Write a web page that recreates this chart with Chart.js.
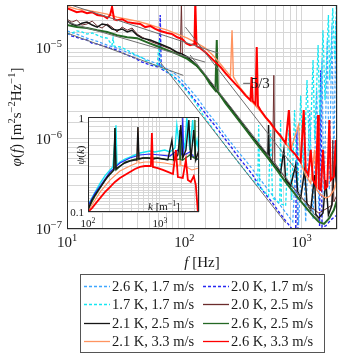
<!DOCTYPE html>
<html>
<head>
<meta charset="utf-8">
<script src="https://cdn.jsdelivr.net/npm/chart.js@4.4.1/dist/chart.umd.min.js"></script>
<style>
  html, body { margin: 0; padding: 0; background: #fff; }
  #contenitore { position: relative; width: 342px; height: 357px; }
  #contenitore canvas { position: absolute; left: 0; top: 0; }
</style>
</head>
<body>
<div id="contenitore">
  <canvas id="graficoSpettro" width="342" height="357"></canvas>
  <canvas id="graficoInset" width="342" height="357"></canvas>
</div>
<script>
//---[ DATI: spettri phi(f), frequenze in Hz ]---
const etichette = ['2.6 K, 1.7 m/s', '2.0 K, 1.7 m/s', '1.7 K, 1.7 m/s', '2.0 K, 2.5 m/s',
                   '2.1 K, 2.5 m/s', '2.6 K, 2.5 m/s', '2.1 K, 3.3 m/s', '2.6 K, 3.3 m/s'];

const freq26_17 = [10, 12.1, 14.8, 18.1, 22.0, 26.7, 32.6, 39.6, 48.3, 58.8, 71.6, 87.1, 106, 129, 157, 193, 233, 284, 345, 422,
                   511, 623, 758, 840, 889, 941, 1020, 1082, 1170, 1250, 1345, 1400, 1490, 1550, 1653, 1720, 1810, 1880, 1953, 2000];
const phi26_17 = [1.55e-5, 1.43e-5, 1.29e-5, 1.19e-5, 1.08e-5, 1.0e-5, 9.0e-6, 8.2e-6, 7.4e-6, 6.7e-6, 5.86e-6, 5.0e-6, 3.8e-6, 2.81e-6, 1.97e-6, 1.41e-6, 1.01e-6, 7.3e-7, 5.4e-7, 3.85e-7,
                  2.77e-7, 2.0e-7, 1.43e-7, 1.2e-7, 5.8e-7, 1.11e-7, 1.09e-6, 1.2e-7, 2.07e-6, 1.3e-7, 3.43e-6, 1.62e-7, 7.4e-6, 2.09e-7, 1.23e-5, 2.7e-7, 1.8e-5, 4.5e-7, 2.04e-5, 7.5e-7];

const freq20_17 = [10, 11.0, 12.1, 13.4, 14.8, 16.4, 18.1, 20.7, 23.3, 26.7, 31.3, 37.4, 43.8, 51.2, 58.8, 61.1, 62.3, 63.5, 71.6, 80.6,
                   92.4, 106, 119, 137, 157, 184, 212, 247, 290, 332, 383, 430, 492, 565, 640, 730, 840, 889, 910, 930,
                   1194, 1318, 1420, 1454, 1490, 1604, 1770, 2000];
const phi20_17 = [1.47e-5, 1.36e-5, 1.32e-5, 1.26e-5, 1.23e-5, 1.13e-5, 1.11e-5, 1.05e-5, 1.0e-5, 9.5e-6, 8.6e-6, 7.8e-6, 7.0e-6, 6.5e-6, 6.2e-6, 6.2e-6, 2.32e-5, 5.9e-6, 5.4e-6, 4.9e-6,
                  4.2e-6, 3.43e-6, 2.8e-6, 2.25e-6, 1.77e-6, 1.37e-6, 1.07e-6, 8.3e-7, 6.2e-7, 5.0e-7, 3.95e-7, 3.06e-7, 2.43e-7, 1.94e-7, 1.54e-7, 1.23e-7, 9.8e-8, 9.5e-8, 1.24e-6, 9.2e-8,
                  9.3e-8, 9.6e-8, 1.0e-7, 5.7e-6, 1.05e-7, 1.08e-7, 1.26e-7, 1.43e-7];

const freq17_17 = [10, 11.0, 12.1, 13.4, 14.8, 16.4, 18.1, 19.9, 22.0, 24.2, 24.7, 25.2, 28.4, 32.6, 37.4, 43.8, 51.2, 58.8, 61.1, 62.3,
                   68.8, 78.9, 92.4, 108, 127, 148, 174, 203, 238, 278, 325, 383, 422, 430, 440, 484, 522, 543, 565, 650,
                   661, 672, 730, 778, 822, 870, 924, 981, 1041, 1110, 1170, 1250, 1291, 1380, 1428, 1520, 1580, 1690, 1734, 1840,
                   1915, 1975, 2000];
const phi17_17 = [1.43e-5, 1.47e-5, 1.55e-5, 1.51e-5, 1.43e-5, 1.47e-5, 1.39e-5, 1.32e-5, 1.29e-5, 1.08e-5, 1.29e-5, 1.05e-5, 1.03e-5, 9.5e-6, 8.6e-6, 7.8e-6, 6.8e-6, 6.3e-6, 1.23e-5, 6.2e-6,
                  5.7e-6, 5.0e-6, 4.1e-6, 3.2e-6, 2.4e-6, 1.73e-6, 1.3e-6, 9.9e-7, 7.5e-7, 5.8e-7, 4.5e-7, 3.48e-7, 3.06e-7, 1.41e-6, 2.9e-7, 2.57e-7, 2.32e-7, 1.24e-6, 2.2e-7, 1.94e-7,
                  1.6e-6, 1.89e-7, 1.8e-7, 1.24e-6, 2.09e-7, 2.07e-6, 2.7e-7, 3.0e-6, 3.95e-7, 4.43e-6, 5.8e-7, 7.4e-6, 9.6e-7, 1.08e-5, 1.6e-6, 1.58e-5, 2.66e-6, 2.32e-5, 4.43e-6, 2.77e-5,
                  7.4e-6, 3.0e-5, 1.23e-5];

const freq20_25 = [10, 11.0, 12.1, 13.4, 14.8, 16.4, 18.1, 19.9, 22.0, 24.2, 26.7, 29.5, 32.6, 35.9, 39.6, 43.8, 51.2, 62.3, 75.9, 87.1,
                   92.4, 94.4, 96.2, 106, 119, 137, 166, 203, 247, 301, 366, 445, 543, 565, 579, 590, 661, 805, 981, 1194,
                   1400, 1653, 1810, 1840, 1880, 2000];
const phi20_25 = [2.09e-5, 1.94e-5, 2.04e-5, 1.80e-5, 1.85e-5, 1.99e-5, 1.76e-5, 1.67e-5, 1.85e-5, 1.71e-5, 1.51e-5, 1.71e-5, 1.58e-5, 1.67e-5, 1.43e-5, 1.32e-5, 1.19e-5, 1.08e-5, 9.8e-6, 8.8e-6,
                  8.6e-6, 3.2e-5, 8.4e-6, 7.8e-6, 6.8e-6, 5.7e-6, 4.1e-6, 2.95e-6, 2.12e-6, 1.52e-6, 1.09e-6, 7.9e-7, 5.8e-7, 5.5e-7, 5.0e-6, 5.4e-7, 4.3e-7, 3.06e-7, 2.3e-7, 1.75e-7,
                  1.5e-7, 1.7e-7, 1.84e-7, 9.6e-7, 2.0e-7, 2.38e-7];

const freq21_25 = [10, 11.0, 12.1, 13.4, 14.8, 16.4, 18.1, 19.9, 22.0, 24.2, 26.7, 29.5, 32.6, 35.9, 39.6, 43.8, 51.2, 62.3, 75.9, 87.1,
                   96.2, 106, 119, 137, 151, 166, 203, 247, 301, 366, 445, 515, 522, 529, 543, 661, 705, 730, 805, 889,
                   924, 981, 1060, 1110, 1194, 1290, 1318, 1400, 1520, 1604, 1690, 1810, 1915, 2000];
const phi21_25 = [1.99e-5, 1.85e-5, 1.76e-5, 1.89e-5, 1.94e-5, 1.80e-5, 1.71e-5, 1.85e-5, 1.80e-5, 1.63e-5, 1.58e-5, 1.63e-5, 1.51e-5, 1.58e-5, 1.39e-5, 1.29e-5, 1.23e-5, 1.11e-5, 1.0e-5, 9.0e-6,
                  8.6e-6, 8.0e-6, 7.0e-6, 5.8e-6, 5.0e-6, 4.2e-6, 3.0e-6, 2.2e-6, 1.56e-6, 1.12e-6, 8.1e-7, 6.6e-7, 1.41e-6, 6.4e-7, 5.8e-7, 4.2e-7, 7.5e-7, 3.48e-7, 3.0e-7, 5.1e-7,
                  2.6e-7, 2.2e-7, 4.5e-7, 1.89e-7, 1.62e-7, 3.95e-7, 1.46e-7, 1.32e-7, 1.5e-7, 3.48e-7, 1.43e-7, 1.84e-7, 5.8e-7, 2.38e-7];

const freq26_25 = [10, 12.1, 14.8, 18.1, 22.0, 26.7, 32.6, 39.6, 48.3, 58.8, 71.6, 87.1, 106, 129, 151, 166, 184, 189, 193, 224,
                   273, 332, 404, 492, 599, 730, 889, 1082, 1250, 1400, 1550, 1720, 1880, 2000];
const phi26_25 = [1.80e-5, 1.71e-5, 1.67e-5, 1.58e-5, 1.51e-5, 1.39e-5, 1.32e-5, 1.29e-5, 1.16e-5, 1.05e-5, 9.5e-6, 8.6e-6, 7.6e-6, 6.3e-6, 4.9e-6, 4.0e-6, 3.4e-6, 1.23e-5, 3.3e-6, 2.47e-6,
                  1.77e-6, 1.27e-6, 9.1e-7, 6.6e-7, 4.7e-7, 3.3e-7, 2.38e-7, 1.75e-7, 1.39e-7, 1.2e-7, 1.14e-7, 1.32e-7, 1.62e-7, 2.09e-7];

const freq21_33 = [10, 12.1, 14.8, 18.1, 22.0, 26.7, 32.6, 39.6, 48.3, 58.8, 71.6, 87.1, 106, 129, 151, 174, 203, 247, 255, 262,
                   301, 366, 445, 543, 661, 805, 941, 981, 1082, 1194, 1290, 1345, 1454, 1604, 1734, 1880, 2000];
const phi21_33 = [2.91e-5, 2.70e-5, 2.63e-5, 2.50e-5, 2.38e-5, 2.20e-5, 2.09e-5, 1.99e-5, 1.85e-5, 1.71e-5, 1.58e-5, 1.43e-5, 1.29e-5, 1.13e-5, 1.0e-5, 8.4e-6, 6.7e-6, 4.9e-6, 1.58e-5, 4.8e-6,
                  3.6e-6, 2.66e-6, 2.0e-6, 1.45e-6, 1.04e-6, 7.5e-7, 1.41e-6, 5.4e-7, 3.95e-7, 3.2e-7, 7.5e-7, 2.7e-7, 2.38e-7, 2.2e-7, 2.3e-7, 2.7e-7, 3.48e-7];

const freq26_33 = [10, 11.0, 12.1, 13.4, 14.8, 16.4, 18.1, 20.7, 22.0, 23.3, 24.2, 25.2, 26.7, 29.5, 32.6, 37.4, 42.1, 46.4, 51.2, 56.5,
                   62.3, 71.6, 78.9, 87.1, 96.2, 104, 112, 122, 124, 127, 137, 151, 166, 184, 203, 224, 247, 273, 301, 332,
                   366, 374, 383, 404, 414, 424, 445, 492, 543, 599, 661, 730, 778, 805, 889, 981, 1041, 1082, 1140, 1194,
                   1250, 1318, 1380, 1400, 1454, 1520, 1580, 1653, 1720, 1770, 1880, 1953, 2000];
const phi26_33 = [2.77e-5, 2.63e-5, 2.50e-5, 2.56e-5, 2.44e-5, 2.50e-5, 2.32e-5, 2.26e-5, 2.14e-5, 2.32e-5, 2.85e-5, 2.09e-5, 2.04e-5, 2.09e-5, 1.94e-5, 1.89e-5, 1.85e-5, 1.71e-5, 1.76e-5, 1.63e-5,
                  1.55e-5, 1.47e-5, 1.43e-5, 1.32e-5, 1.26e-5, 1.13e-5, 1.08e-5, 1.11e-5, 3.3e-5, 1.05e-5, 1.0e-5, 9.0e-6, 8.0e-6, 7.0e-6, 6.2e-6, 5.3e-6, 4.6e-6, 4.0e-6, 3.5e-6, 3.0e-6,
                  2.66e-6, 4.8e-6, 2.6e-6, 2.4e-6, 1.03e-5, 2.3e-6, 2.07e-6, 1.73e-6, 1.49e-6, 1.24e-6, 1.07e-6, 8.9e-7, 2.07e-6, 7.6e-7, 6.6e-7, 5.5e-7, 2.07e-6, 4.5e-7, 3.95e-7, 7.5e-7,
                  3.48e-7, 3.06e-7, 1.82e-6, 2.8e-7, 2.7e-7, 7.5e-7, 2.8e-7, 2.95e-7, 1.6e-6, 3.48e-7, 3.8e-7, 9.6e-7, 4.6e-7];

// rette di riferimento (estremi)
const rettaFreq = [[10, 195], [102, 941], [10, 151], [112, 1400], [10, 98], [62.3, 730]];
const rettaPhi = [[3.1e-5, 8.8e-6], [1.71e-5, 4.16e-7], [1.94e-5, 7.0e-6], [8.4e-6, 1.26e-7], [1.47e-5, 5.0e-6], [7.0e-6, 1.17e-7]];

//---[ DATI INSET: psi(k), k in m^-1 ]---
const kCiano = [100, 117, 147, 172, 202, 222, 245, 253, 278, 326, 383, 450, 528, 620, 726, 851, 1000, 1170, 1377, 1620,
                1720, 1896, 2080, 2220, 2370, 2610, 2860, 3070, 3280, 3490];
const psiCiano = [0.118, 0.147, 0.20, 0.24, 0.277, 0.298, 0.82, 0.312, 0.336, 0.361, 0.379, 0.398, 0.418, 0.428, 0.439, 0.428, 0.439, 0.449, 0.428, 0.472,
                  0.82, 0.449, 0.573, 0.472, 0.976, 0.449, 0.93, 0.449, 0.573, 0.398];
const kBlu = [100, 125, 147, 202, 278, 383, 528, 726, 1000, 1377, 1780, 2010, 2080, 2150, 2610, 3070, 3490];
const psiBlu = [0.116, 0.158, 0.188, 0.264, 0.328, 0.37, 0.398, 0.408, 0.398, 0.388, 0.449, 0.40, 1.0, 0.398, 0.428, 0.37, 0.353];
const kNero = [100, 113.6, 133, 162, 190, 229, 237, 245, 278, 326, 383, 450, 479, 495, 511, 580, 681, 800, 935, 1100,
               1290, 1470, 1563, 1780, 1957, 2080, 2300, 2530, 2690, 2960, 3160, 3490];
const psiNero = [0.105, 0.134, 0.162, 0.20, 0.239, 0.277, 0.766, 0.284, 0.305, 0.328, 0.344, 0.353, 0.353, 0.785, 0.361, 0.37, 0.37, 0.361, 0.37, 0.361,
                 0.353, 0.573, 0.353, 0.398, 0.824, 0.37, 0.449, 0.93, 0.353, 0.73, 0.353, 0.449];
const kVerde = [100, 125, 172, 229, 237, 245, 326, 450, 620, 851, 1170, 1620, 1850, 1896, 1950, 2080, 2610, 3000, 3070, 3140, 3490];
const psiVerde = [0.107, 0.147, 0.217, 0.277, 0.766, 0.277, 0.336, 0.361, 0.37, 0.37, 0.361, 0.353, 0.36, 0.73, 0.355, 0.353, 0.398, 0.37, 0.93, 0.353, 0.37];
const kArancio = [100, 147, 202, 278, 383, 479, 495, 511, 620, 851, 1170, 1620, 1850, 1896, 1950, 2220, 2780, 3490];
const psiArancio = [0.102, 0.162, 0.217, 0.270, 0.305, 0.328, 0.766, 0.328, 0.336, 0.336, 0.328, 0.312, 0.31, 0.647, 0.31, 0.305, 0.277, 0.29];
const kRosso = [100, 113.6, 129, 147, 172, 202, 237, 278, 326, 383, 450, 528, 620, 726, 750, 774, 800, 935, 1100, 1290,
                1520, 1668, 1780, 2080, 2300, 2450, 2690, 2960, 3160, 3280, 3380, 3490];
const psiRosso = [0.1, 0.11, 0.124, 0.14, 0.162, 0.183, 0.207, 0.228, 0.245, 0.264, 0.284, 0.298, 0.305, 0.305, 0.305, 0.679, 0.298, 0.29, 0.277, 0.264,
                  0.251, 0.449, 0.233, 0.228, 0.353, 0.217, 0.207, 0.239, 0.192, 0.134, 0.1, 0.118];

const FONT = '"Liberation Serif", "DejaVu Serif", serif';
const GRIGLIA = '#d6d6d6';

// Unisce due array in punti {x, y}
function punti(xs, ys) {
    return xs.map((x, i) => ({ x: x, y: ys[i] }));
}

// Scrive un testo composto da pezzi: '' normale, 'i' corsivo, 's' apice
function testoRicco(ctx, parti, x, y, size, align) {
    const pezzi = parti.map(([t, st]) => {
        const sup = st.includes('s');
        const sz = sup ? size * 0.7 : size;
        const font = (st.includes('i') ? 'italic ' : '') + sz + 'px ' + FONT;
        ctx.font = font;
        return { t: t, font: font, w: ctx.measureText(t).width, dy: sup ? -size * 0.4 : 0 };
    });
    const tot = pezzi.reduce((a, p) => a + p.w, 0);
    let cx = align === 'right' ? x - tot : (align === 'left' ? x : x - tot / 2);
    ctx.textAlign = 'left';
    ctx.textBaseline = 'alphabetic';
    pezzi.forEach(p => {
        ctx.font = p.font;
        ctx.fillText(p.t, cx, y + p.dy);
        cx += p.w;
    });
}

function cornice(ctx, ca) {
    ctx.save();
    ctx.strokeStyle = '#2a2a2a';
    ctx.lineWidth = 1;
    ctx.setLineDash([]);
    ctx.strokeRect(Math.round(ca.left) + 0.5, Math.round(ca.top) + 0.5,
                   Math.round(ca.right - ca.left) - 1, Math.round(ca.bottom - ca.top) - 1);
    ctx.restore();
}

//---[ SERIE GRAFICO PRINCIPALE ]---
const serie = [
    { f: freq26_17, v: phi26_17, color: '#3ea6ff', dash: [3, 2], width: 1.2, order: 7 },
    { f: freq20_17, v: phi20_17, color: '#2626f2', dash: [3, 2], width: 1.4, order: 8 },
    { f: freq17_17, v: phi17_17, color: '#16e6f2', dash: [3, 2], width: 1.3, order: 6 },
    { f: freq20_25, v: phi20_25, color: '#6b2c2c', dash: [], width: 1, order: 5 },
    { f: freq21_25, v: phi21_25, color: '#151515', dash: [], width: 1.5, order: 4 },
    { f: freq26_25, v: phi26_25, color: '#246824', dash: [], width: 2, order: 3 },
    { f: freq21_33, v: phi21_33, color: '#ff9460', dash: [], width: 1.4, order: 2 },
    { f: freq26_33, v: phi26_33, color: '#ff0000', dash: [], width: 2, order: 1 }
];

const datasetsSpettro = serie.map((s, i) => ({
    label: etichette[i],
    data: punti(s.f, s.v),
    borderColor: s.color,
    backgroundColor: s.color,
    borderDash: s.dash,
    borderWidth: s.width,
    showLine: true,
    pointRadius: 0,
    tension: 0,
    order: s.order
}));
rettaFreq.forEach((fr, i) => {
    datasetsSpettro.push({
        label: 'retta ' + i,
        data: punti(fr, rettaPhi[i]),
        borderColor: '#6e6e6e',
        borderWidth: 1,
        showLine: true,
        pointRadius: 0,
        order: 0
    });
});

// Etichette assi, titoli e cornice del grafico principale
const etichettePrincipali = {
    id: 'etichettePrincipali',
    afterDraw(chart) {
        const ctx = chart.ctx;
        const ca = chart.chartArea;
        const sx = chart.scales.x;
        const sy = chart.scales.y;
        cornice(ctx, ca);
        ctx.save();
        ctx.fillStyle = '#1a1a1a';
        [[10, '1'], [100, '2'], [1000, '3']].forEach(([v, e]) => {
            testoRicco(ctx, [['10', ''], [e, 's']], sx.getPixelForValue(v), ca.bottom + 18, 15, 'center');
        });
        [[1e-5, '\u22125'], [1e-6, '\u22126'], [1e-7, '\u22127']].forEach(([v, e]) => {
            testoRicco(ctx, [['10', ''], [e, 's']], 62, sy.getPixelForValue(v) + 5, 15, 'right');
        });
        testoRicco(ctx, [['f', 'i'], [' [Hz]', '']], (ca.left + ca.right) / 2, 267, 15, 'center');
        ctx.save();
        ctx.translate(21, (ca.top + ca.bottom) / 2);
        ctx.rotate(-Math.PI / 2);
        testoRicco(ctx, [['\u03C6', 'i'], ['(', ''], ['f', 'i'], [') [m', ''], ['2', 's'], ['s', ''], ['\u22122', 's'],
                         ['Hz', ''], ['\u22121', 's'], [']', '']], 0, 0, 15, 'center');
        ctx.restore();
        testoRicco(ctx, [['\u22125/3', '']], 256, 88, 15, 'center');
        ctx.restore();
    }
};

// Legenda a due colonne sotto il grafico
const legendaBox = {
    id: 'legendaBox',
    afterDraw(chart) {
        const ctx = chart.ctx;
        ctx.save();
        ctx.fillStyle = '#fff';
        ctx.fillRect(80, 274, 244, 78);
        ctx.strokeStyle = '#555';
        ctx.lineWidth = 1;
        ctx.strokeRect(80.5, 274.5, 244, 78);
        serie.forEach((s, i) => {
            const x0 = i % 2 === 0 ? 84 : 203;
            const yc = Math.round(286 + Math.floor(i / 2) * 18.3) + 0.5;
            ctx.strokeStyle = s.color;
            ctx.lineWidth = 1.3;
            ctx.setLineDash(s.dash);
            ctx.beginPath();
            ctx.moveTo(x0, yc);
            ctx.lineTo(x0 + 26, yc);
            ctx.stroke();
            ctx.setLineDash([]);
            ctx.fillStyle = '#1a1a1a';
            ctx.font = '14.5px ' + FONT;
            ctx.textAlign = 'left';
            ctx.textBaseline = 'alphabetic';
            ctx.fillText(etichette[i], x0 + 28, yc + 4.5);
        });
        ctx.restore();
    }
};

new Chart(document.getElementById('graficoSpettro'), {
    type: 'scatter',
    data: { datasets: datasetsSpettro },
    options: {
        responsive: false,
        animation: false,
        events: [],
        layout: { padding: { left: 0, top: 5, right: 5, bottom: 0 } },
        plugins: { legend: { display: false }, tooltip: { enabled: false } },
        scales: {
            x: {
                type: 'logarithmic', min: 10, max: 2000,
                grid: { color: GRIGLIA, drawTicks: false },
                border: { display: false },
                ticks: { display: false },
                afterFit: s => { s.height = 128; }
            },
            y: {
                type: 'logarithmic', min: 1e-7, max: 3e-5,
                grid: { color: GRIGLIA, drawTicks: false },
                border: { display: false },
                ticks: { display: false },
                afterFit: s => { s.width = 67; }
            }
        }
    },
    plugins: [etichettePrincipali, legendaBox]
});

//---[ INSET: spettro compensato ]---
const serieInset = [
    { k: kCiano, v: psiCiano, color: '#16e6f2', width: 1.4, order: 6 },
    { k: kBlu, v: psiBlu, color: '#2626f2', width: 1.1, order: 5 },
    { k: kArancio, v: psiArancio, color: '#ff9460', width: 1.1, order: 4 },
    { k: kVerde, v: psiVerde, color: '#246824', width: 1.3, order: 3 },
    { k: kNero, v: psiNero, color: '#151515', width: 1.4, order: 2 },
    { k: kRosso, v: psiRosso, color: '#ff0000', width: 1.8, order: 1 }
];

const sfondoInset = {
    id: 'sfondoInset',
    beforeDraw(chart) {
        const ca = chart.chartArea;
        chart.ctx.save();
        chart.ctx.fillStyle = '#fff';
        chart.ctx.fillRect(ca.left, ca.top, ca.right - ca.left, ca.bottom - ca.top);
        chart.ctx.restore();
    },
    afterDraw(chart) {
        const ctx = chart.ctx;
        const ca = chart.chartArea;
        const sx = chart.scales.x;
        cornice(ctx, ca);
        ctx.save();
        ctx.fillStyle = '#1a1a1a';
        testoRicco(ctx, [['1', '']], 84, ca.top + 5, 11, 'right');
        testoRicco(ctx, [['0.1', '']], 84, ca.bottom + 4, 11, 'right');
        testoRicco(ctx, [['10', ''], ['2', 's']], sx.getPixelForValue(100), 227, 11, 'center');
        testoRicco(ctx, [['10', ''], ['3', 's']], sx.getPixelForValue(1000), 227, 11, 'center');
        testoRicco(ctx, [['k', 'i'], [' [m', ''], ['\u22121', 's'], [']', '']], 148, 210, 11, 'left');
        ctx.save();
        ctx.translate(84, 155);
        ctx.rotate(-Math.PI / 2);
        testoRicco(ctx, [['\u03C8', 'i'], ['(', ''], ['k', 'i'], [')', '']], 0, 0, 11, 'center');
        ctx.restore();
        ctx.restore();
    }
};

new Chart(document.getElementById('graficoInset'), {
    type: 'scatter',
    data: {
        datasets: serieInset.map(s => ({
            data: punti(s.k, s.v),
            borderColor: s.color,
            borderWidth: s.width,
            showLine: true,
            pointRadius: 0,
            tension: 0,
            order: s.order
        }))
    },
    options: {
        responsive: false,
        animation: false,
        events: [],
        layout: { padding: { left: 88, top: 117, right: 143, bottom: 145 } },
        plugins: { legend: { display: false }, tooltip: { enabled: false } },
        scales: {
            x: {
                type: 'logarithmic', min: 100, max: 3500,
                grid: { color: GRIGLIA, drawTicks: false },
                border: { display: false },
                ticks: { display: false },
                afterFit: s => { s.height = 0; }
            },
            y: {
                type: 'logarithmic', min: 0.1, max: 1,
                grid: { color: GRIGLIA, drawTicks: false },
                border: { display: false },
                ticks: { display: false },
                afterFit: s => { s.width = 0; }
            }
        }
    },
    plugins: [sfondoInset]
});
</script>
</body>
</html>
